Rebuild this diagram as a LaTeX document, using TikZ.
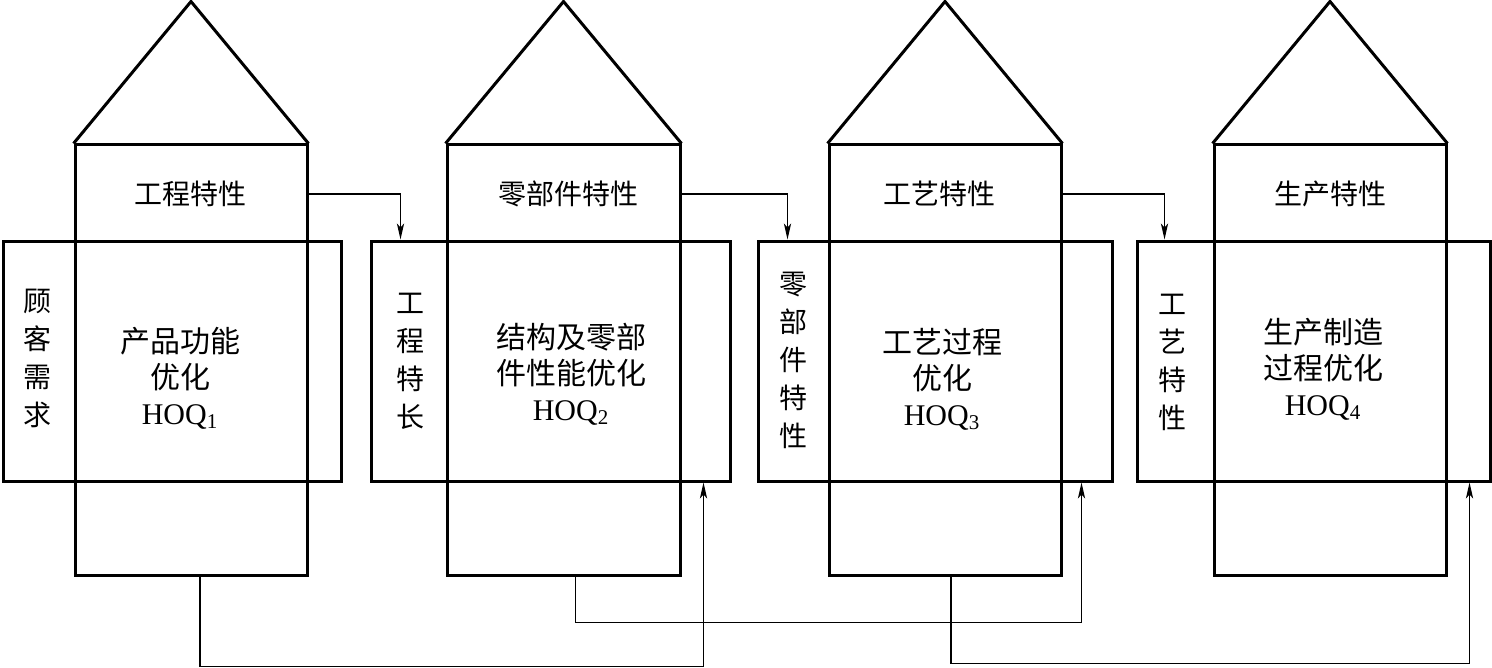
\documentclass[tikz,border=0pt]{standalone}
\usepackage{fontspec}
\setmainfont{Liberation Serif}
\newfontfamily\cjk{Noto Sans CJK SC}
\usetikzlibrary{arrows.meta,fit,calc}

\begin{document}
\begin{tikzpicture}[
  x=0.5pt, y=-0.5pt,
  >={Stealth[length=8pt,width=3.6pt,inset=2pt]},
  housebox/.style={
    draw,
    line width=1.5pt,
    inner sep=0pt
  },
  titletext/.style={
    font=\cjk\fontsize{14}{17}\selectfont,
    inner sep=0pt
  },
  sidetext/.style={
    font=\cjk\fontsize{14}{19}\selectfont,
    align=center,
    inner sep=0pt
  },
  coretext/.style={
    font=\cjk\fontsize{15}{18}\selectfont,
    align=center,
    inner sep=0pt
  },
  flow/.style={
    ->,
    line width=0.6pt
  }
]
  \useasboundingbox (0,0) rectangle (1492,668);

  % --- HOUSE 1: customer needs -> product function ---
  \node[housebox, fit={(75,145) (307,575)}] (room1) {};
  \node[housebox, fit={(3,241) (341,481)}] (wing1) {};
  \draw[housebox] (room1.north west) -- ($(room1.north)+(0,-142)$) -- (room1.north east);
  \node[titletext] (title1) at (190,194) {工程特性};
  \node[sidetext] (side1) at (37,358) {顾\\客\\需\\求};
  \node[coretext] (core1) at (180,378) {产品功能\\优化\\{\rmfamily HOQ\textsubscript{1}}};

  % --- HOUSE 2: parts ---
  \node[housebox, fit={(447,145) (680,575)}] (room2) {};
  \node[housebox, fit={(371,241) (730,481)}] (wing2) {};
  \draw[housebox] (room2.north west) -- ($(room2.north)+(0,-142)$) -- (room2.north east);
  \node[titletext] (title2) at (568,194) {零部件特性};
  \node[sidetext] (side2) at (410,361) {工\\程\\特\\长};
  \node[coretext] (core2) at (571,374) {结构及零部\\件性能优化\\{\rmfamily HOQ\textsubscript{2}}};

  % --- HOUSE 3: process ---
  \node[housebox, fit={(829,145) (1061,575)}] (room3) {};
  \node[housebox, fit={(758,241) (1112,481)}] (wing3) {};
  \draw[housebox] (room3.north west) -- ($(room3.north)+(0,-142)$) -- (room3.north east);
  \node[titletext] (title3) at (939,194) {工艺特性};
  \node[sidetext] (side3) at (793,360) {零\\部\\件\\特\\性};
  \node[coretext] (core3) at (942,379) {工艺过程\\优化\\{\rmfamily HOQ\textsubscript{3}}};

  % --- HOUSE 4: production ---
  \node[housebox, fit={(1214,145) (1446,575)}] (room4) {};
  \node[housebox, fit={(1137,241) (1490,481)}] (wing4) {};
  \draw[housebox] (room4.north west) -- ($(room4.north)+(0,-142)$) -- (room4.north east);
  \node[titletext] (title4) at (1330,194) {生产特性};
  \node[sidetext] (side4) at (1172,362) {工\\艺\\特\\性};
  \node[coretext] (core4) at (1323,369) {生产制造\\过程优化\\{\rmfamily HOQ\textsubscript{4}}};

  % Top links: characteristics feed the next house
  \coordinate (drop2) at ($(wing2.north west)+(31,0)$);
  \coordinate (drop3) at ($(wing3.north west)+(31,0)$);
  \coordinate (drop4) at ($(wing4.north west)+(29,0)$);
  \draw[flow] (title1 -| room1.east) -| (drop2);
  \draw[flow] (title2 -| room2.east) -| (drop3);
  \draw[flow] (title3 -| room3.east) -| (drop4);

  % Bottom feedback links
  \coordinate (out1) at ($(room1.south)+(9,0)$);
  \coordinate (out2) at ($(room2.south)+(12,0)$);
  \coordinate (out3) at ($(room3.south)+(6,0)$);
  \coordinate (rise2) at ($(wing2.south east)+(-28,0)$);
  \coordinate (rise3) at ($(wing3.south east)+(-32,0)$);
  \coordinate (rise4) at ($(wing4.south east)+(-22,0)$);
  \draw[flow] (out1) -- ++(0,90) -| (rise2);
  \draw[flow] (out2) -- ++(0,46) -| (rise3);
  \draw[flow] (out3) -- ++(0,87) -| (rise4);

\end{tikzpicture}
\end{document}
